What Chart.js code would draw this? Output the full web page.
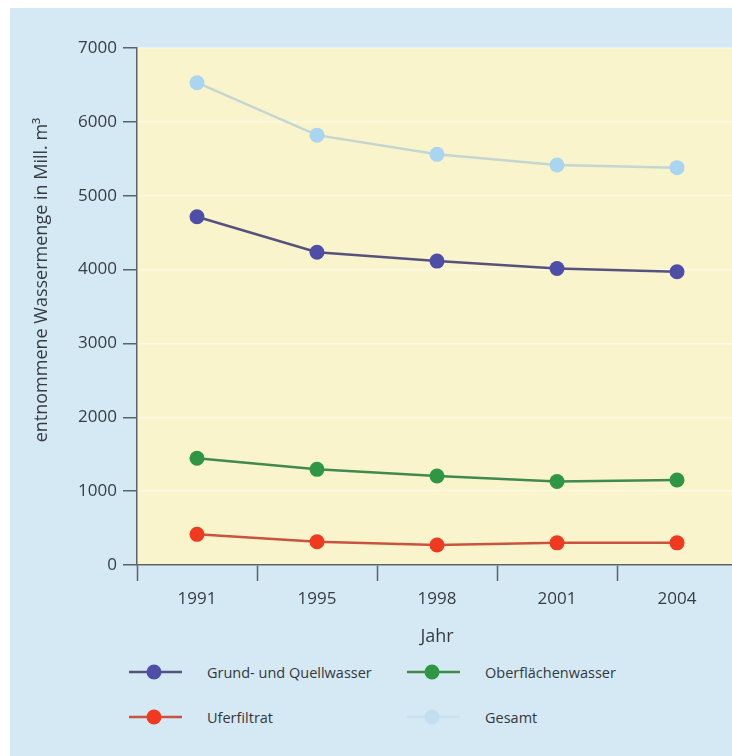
<!DOCTYPE html>
<html>
<head>
<meta charset="utf-8">
<script src="https://cdn.jsdelivr.net/npm/chart.js@4/dist/chart.umd.min.js"></script>
<style>
  html, body { margin: 0; padding: 0; background: #fff; overflow: hidden; width: 732px; height: 756px; }
  #box { position: absolute; left: 10px; top: 8px; width: 722px; height: 748px; background: #d5e9f5; overflow: hidden; }
  #c { position: absolute; left: 0; top: 0; }
  .leg { position: absolute; font-family: 'Open Sans', sans-serif; font-size: 14.5px; color: #33373c; }
  .leg .txt { position: absolute; white-space: nowrap; transform: translateY(-50%); }
  .leg svg { position: absolute; }
</style>
</head>
<body>
<div id="box">
  <canvas id="c" width="727" height="650"></canvas>
  <div id="legend"></div>
</div>
<script>
// data
const jahre = ['1991', '1995', '1998', '2001', '2004'];
const grundwasser = [4715, 4235, 4115, 4015, 3970];
const oberflaeche = [1445, 1295, 1205, 1130, 1150];
const uferfiltrat = [415, 315, 270, 300, 300];
const gesamt = [6530, 5820, 5560, 5415, 5380];
const yTicks = [0, 1000, 2000, 3000, 4000, 5000, 6000, 7000];

const textColor = '#383c42';
const axisColor = '#5b6268';

const series = [
  { label: 'Grund- und Quellwasser', data: grundwasser, line: '#56527e', dot: '#4e4ea8' },
  { label: 'Oberflächenwasser', data: oberflaeche, line: '#3f8a4c', dot: '#2e9644' },
  { label: 'Uferfiltrat', data: uferfiltrat, line: '#c9533e', dot: '#f0391f' },
  { label: 'Gesamt', data: gesamt, line: '#c4d6d0', dot: '#a9d5f0' }
];

// plot area background + y title
const plotBg = {
  id: 'plotBg',
  beforeDraw(chart) {
    const a = chart.chartArea, ctx = chart.ctx;
    ctx.save();
    ctx.fillStyle = '#faf4cc';
    ctx.fillRect(a.left, a.top, a.right - a.left, a.bottom - a.top);
    ctx.restore();
  },
  afterDraw(chart) {
    const ctx = chart.ctx;
    ctx.save();
    ctx.translate(32, 272);
    ctx.rotate(-Math.PI / 2);
    ctx.font = '18px "Open Sans", sans-serif';
    ctx.fillStyle = textColor;
    ctx.textAlign = 'center';
    ctx.textBaseline = 'middle';
    ctx.fillText('entnommene Wassermenge in Mill. m³', 0, 0);
    ctx.restore();
  }
};

const chart = new Chart(document.getElementById('c'), {
  type: 'line',
  data: {
    labels: jahre,
    datasets: series.map(s => ({
      label: s.label,
      data: s.data,
      borderColor: s.line,
      borderWidth: 2.5,
      backgroundColor: s.dot,
      pointBackgroundColor: s.dot,
      pointBorderColor: s.dot,
      pointRadius: 7.5,
      pointBorderWidth: 0,
      tension: 0
    })).reverse()
  },
  options: {
    responsive: false,
    animation: false,
    layout: { autoPadding: false, padding: { top: 40, right: 0, left: 0, bottom: 6 } },
    plugins: {
      legend: { display: false },
      tooltip: { enabled: false }
    },
    scales: {
      x: {
        offset: true,
        grid: { offset: true, drawOnChartArea: false, tickLength: 16, tickColor: axisColor, tickWidth: 1.5 },
        border: { color: axisColor, width: 1.5 },
        ticks: { color: textColor, font: { family: 'Open Sans', size: 17 }, padding: 8 },
        title: { display: true, text: 'Jahr', color: textColor, font: { family: 'Open Sans', size: 18 }, padding: { top: 0, bottom: 4 } },
        afterFit(scale) {
          scale.height = 87;
          scale.paddingLeft = 0;
          scale.paddingRight = 0;
        }
      },
      y: {
        min: 0,
        max: 7000,
        afterBuildTicks(scale) { scale.ticks = yTicks.map(v => ({ value: v })); },
        grid: { color: 'rgba(255,255,255,0.45)', lineWidth: 1.5, tickLength: 14, tickColor: axisColor, tickWidth: 1.5 },
        border: { color: axisColor, width: 1.5 },
        ticks: {
          color: textColor,
          font: { family: 'Open Sans', size: 17 },
          padding: 6,
          callback: v => String(v)
        },
        afterFit(scale) { scale.width = 127; }
      }
    }
  },
  plugins: [plotBg]
});

// legend (html, two columns)
const legendPos = [
  { x: 119, y: 664 },
  { x: 397, y: 664 },
  { x: 119, y: 709 },
  { x: 397, y: 709 }
];
const legendEl = document.getElementById('legend');
series.forEach((s, i) => {
  const p = legendPos[i];
  const line = s.label === 'Gesamt' ? '#c9e1ef' : s.line;
  const dot = s.label === 'Gesamt' ? '#c2dff1' : s.dot;
  const d = document.createElement('div');
  d.className = 'leg';
  d.style.left = p.x + 'px';
  d.style.top = p.y + 'px';
  d.innerHTML =
    '<svg width="54" height="18" style="left:0;top:-9px">' +
    '<line x1="0" y1="9" x2="53" y2="9" stroke="' + line + '" stroke-width="2.5"/>' +
    '<circle cx="25" cy="9" r="7.5" fill="' + dot + '"/></svg>' +
    '<span class="txt" style="left:78px;top:0">' + s.label + '</span>';
  legendEl.appendChild(d);
});
</script>
</body>
</html>
